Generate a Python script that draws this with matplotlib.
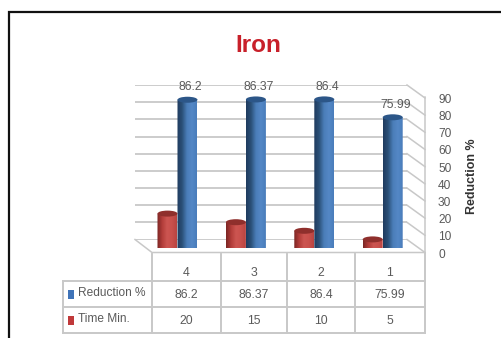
"""Iron: reduction % against time, 3D-style cylinder chart with data table"""
import numpy as np
import matplotlib
matplotlib.use("Agg")
import matplotlib.pyplot as plt
from matplotlib.colors import LinearSegmentedColormap
from matplotlib.patches import Ellipse, PathPatch, Rectangle
from matplotlib.path import Path

plt.rcParams['font.family'] = ['Liberation Sans', 'DejaVu Sans']

categories = ['4', '3', '2', '1']
reduction = [86.2, 86.37, 86.4, 75.99]
time_min = [20, 15, 10, 5]
reduction_text = ['86.2', '86.37', '86.4', '75.99']
y_ticks = list(range(0, 100, 10))

W, H = 502, 338
GREY = '#c8c8c8'
TXT = '#5a5a5a'
BLUE = LinearSegmentedColormap.from_list('b', ['#1f3b5e', '#2b5078', '#4a7db8', '#5488c6', '#4a7dbb'])
RED = LinearSegmentedColormap.from_list('r', ['#7a2624', '#b23c39', '#cc5551', '#c9504c', '#b94441'])

fig = plt.figure(figsize=(W / 100, H / 100), dpi=100, facecolor='white')


def px_axes(x0, y0, x1, y1, **kw):
    # axes placed by pixel box, y measured from the top of the figure
    return fig.add_axes([x0 / W, 1 - y1 / H, (x1 - x0) / W, (y1 - y0) / H], **kw)


# overlay in pixel units for frame, floor and table rules
deco = px_axes(0, 0, W, H, zorder=1)
deco.set_xlim(0, W)
deco.set_ylim(H, 0)
deco.axis('off')
deco.plot([9.5, 9.5, W], [H, 11.5, 11.5], color='#111111', lw=1.6, solid_joinstyle='miter')

# back wall gridlines, with the receding side wall lines
wall = px_axes(135, 85, 407, 239.5, zorder=2)
wall.set_xlim(0, 1)
wall.set_ylim(0, 90)
wall.axis('off')
wall.hlines(y_ticks, 0, 1, color=GREY, lw=1.3)
for t in y_ticks:
    py = 239.5 - t * 154.5 / 90
    deco.plot([407, 425], [py, py + 13], color=GREY, lw=1.1)
deco.plot([135, 152, 425], [239.5, 252.5, 252.5], color=GREY, lw=1.1)
deco.plot([425, 425], [97, 252.5], color=GREY, lw=1.1)

# front-plane value axis on the right
front = px_axes(425, 98.5, 445, 253, zorder=2)
front.set_xlim(0, 1)
front.set_ylim(0, 90)
front.patch.set_alpha(0)
for s in front.spines.values():
    s.set_visible(False)
front.xaxis.set_visible(False)
front.yaxis.tick_right()
front.set_yticks(y_ticks)
front.tick_params(axis='y', length=0, pad=-5, labelsize=8.6, labelcolor=TXT)
deco.text(472.5, 176, 'Reduction %', rotation=90, ha='center', va='center',
          fontsize=9, fontweight='bold', color='#333333')

# cylinders
ax = px_axes(143.3, 85, 416.9, 248, zorder=3)
ax.set_xlim(-0.5, 3.5)
ax.set_ylim(0, 163 / 1.72)
ax.axis('off')
BAR_W = 20 / 68.4
CAP_H = 6 / 1.72  # ellipse height in value units


def cylinder(xc, val, cmap, top_color):
    xl, xr = xc - BAR_W / 2, xc + BAR_W / 2
    k = 0.5522847
    a, b = BAR_W / 2, CAP_H / 2
    verts = [(xl, val), (xl, 0),
             (xl, -b * k), (xc - a * k, -b), (xc, -b),
             (xc + a * k, -b), (xr, -b * k), (xr, 0),
             (xr, val), (xl, val)]
    codes = [Path.MOVETO, Path.LINETO,
             Path.CURVE4, Path.CURVE4, Path.CURVE4,
             Path.CURVE4, Path.CURVE4, Path.CURVE4,
             Path.LINETO, Path.CLOSEPOLY]
    body = PathPatch(Path(verts, codes), fc='none', ec='none', transform=ax.transData)
    ax.add_patch(body)
    grad = np.linspace(0, 1, 64).reshape(1, -1)
    im = ax.imshow(grad, cmap=cmap, extent=[xl, xr, -b, val], aspect='auto', zorder=3)
    im.set_clip_path(body)
    ax.add_patch(Ellipse((xc, val), BAR_W, CAP_H, fc=top_color, ec='none', zorder=4))


x = np.arange(len(categories))
for i in x:
    cylinder(i - BAR_W / 2, time_min[i], RED, '#8f2f2c')
    cylinder(i + BAR_W / 2, reduction[i], BLUE, '#2c5688')
    ax.annotate(reduction_text[i], (i + BAR_W / 2, reduction[i]), xytext=(2, 9),
                textcoords='offset points', ha='center', va='center',
                fontsize=8.8, color=TXT, annotation_clip=False)
ax.set_xlim(-0.5, 3.5)
ax.set_ylim(0, 163 / 1.72)
ax.patch.set_alpha(0)

# data table below the chart
col_x = [152, 221, 287, 355, 425]
row_y = [254, 281, 307, 333]
tab_left = 63
for cx in col_x:
    deco.plot([cx, cx], [row_y[0], row_y[-1]], color=GREY, lw=1.4)
deco.plot([tab_left, tab_left], [row_y[1], row_y[-1]], color=GREY, lw=1.4)
for ry in row_y[1:]:
    deco.plot([tab_left, col_x[-1]], [ry, ry], color=GREY, lw=1.4)

rows = [('Reduction %', reduction_text, '#3f73b8'),
        ('Time Min.', [str(v) for v in time_min], '#c0393a')]
for j, c in enumerate(categories):
    xm = (col_x[j] + col_x[j + 1]) / 2
    deco.text(xm, 272.5, c, ha='center', va='center', fontsize=8.8, color=TXT)
    for r, (_, vals, _c) in enumerate(rows):
        ym = (row_y[r + 1] + row_y[r + 2]) / 2 + 0.5
        deco.text(xm, ym, vals[j], ha='center', va='center', fontsize=8.8, color=TXT)
for r, (name, _, col) in enumerate(rows):
    ym = (row_y[r + 1] + row_y[r + 2]) / 2
    deco.add_patch(Rectangle((68, ym - 4.5), 6, 9, fc=col, ec='none'))
    deco.text(78, ym - 1, name, ha='left', va='center', fontsize=8.6, color=TXT)

deco.text(258, 45, 'Iron', ha='center', va='center', fontsize=17.5, fontweight='bold', color='#c8202a')

fig.savefig('out.png', dpi=100)
plt.close()
